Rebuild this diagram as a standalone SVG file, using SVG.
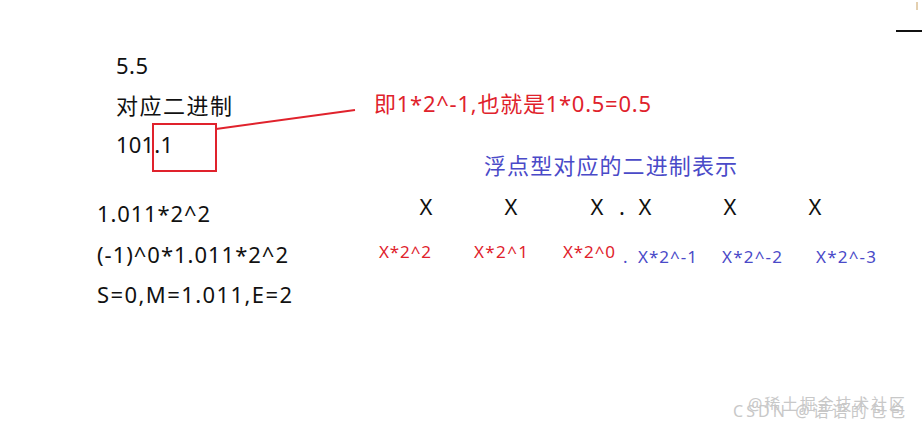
<svg xmlns="http://www.w3.org/2000/svg" width="922" height="432" viewBox="0 0 922 432">
<style>
text{font-family:"Noto Sans","Noto Sans CJK SC",sans-serif;}
.k{fill:#111;font-size:22px;}
.r{fill:#e0222c;}
.b{fill:#4a4ac8;}
.x{fill:#111;font-size:22px;text-anchor:middle;}
.l{font-size:17px;}
.w{fill:#c8c8c8;font-size:16px;}
</style>
<rect width="922" height="432" fill="#fff"/>
<g id="left-text">
<text class="k" x="116" y="74" textLength="32">5.5</text>
<text class="k" x="116" y="114" textLength="116">对应二进制</text>
<text class="k" x="116" y="153" textLength="57">101.1</text>
<text class="k" x="97" y="222" textLength="113">1.011*2^2</text>
<text class="k" x="97" y="263" textLength="191">(-1)^0*1.011*2^2</text>
<text class="k" x="97" y="303" textLength="195">S=0,M=1.011,E=2</text>
</g>
<g id="note">
<rect x="153" y="124" width="63" height="47" fill="none" stroke="#e0222c" stroke-width="2"/>
<text class="r" x="374" y="112" font-size="22" textLength="277">即1*2^-1,也就是1*0.5=0.5</text>
</g>
<g id="connectors">
<line x1="216" y1="129" x2="355" y2="110" stroke="#e0222c" stroke-width="2"/>
</g>
<g id="binary">
<text class="b" x="484" y="174" font-size="22" textLength="253">浮点型对应的二进制表示</text>
<text class="x" x="426" y="215">X</text>
<text class="x" x="511" y="215">X</text>
<text class="x" x="597" y="215">X</text>
<text class="x" x="622" y="215">.</text>
<text class="x" x="645" y="215">X</text>
<text class="x" x="730" y="215">X</text>
<text class="x" x="815" y="215">X</text>
<text class="r l" x="379" y="258" textLength="52">X*2^2</text>
<text class="r l" x="474" y="258" textLength="54">X*2^1</text>
<text class="r l" x="563" y="258" textLength="52">X*2^0</text>
<text class="b l" x="623" y="263">.</text>
<text class="b l" x="638" y="263" textLength="59">X*2^-1</text>
<text class="b l" x="722" y="263" textLength="60">X*2^-2</text>
<text class="b l" x="816" y="263" textLength="60">X*2^-3</text>
</g>
<g id="corner">
<line x1="896" y1="31" x2="922" y2="31" stroke="#111" stroke-width="2"/>
<line x1="917" y1="2" x2="917" y2="10" stroke="#c8a060" stroke-width="1"/>
</g>
<g id="watermark">
<text class="w" x="748" y="410" textLength="157">@稀土掘金技术社区</text>
<text class="w" x="733" y="417" textLength="172">CSDN @语语的包包</text>
</g>
</svg>
